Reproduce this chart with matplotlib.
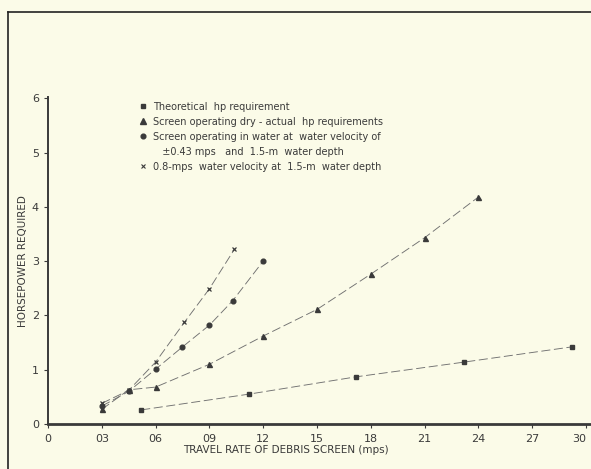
import matplotlib.pyplot as plt
from matplotlib.lines import Line2D

# travel rate (mps) vs horsepower
theo_x = [0.52, 1.12, 1.72, 2.32, 2.92]
theo_y = [0.26, 0.55, 0.87, 1.14, 1.42]

dry_x = [0.3, 0.45, 0.6, 0.9, 1.2, 1.5, 1.8, 2.1, 2.4]
dry_y = [0.27, 0.63, 0.68, 1.1, 1.62, 2.11, 2.76, 3.43, 4.18]

wet_x = [0.3, 0.45, 0.6, 0.75, 0.9, 1.03, 1.2]
wet_y = [0.33, 0.6, 1.01, 1.42, 1.82, 2.27, 3.0]

fast_x = [0.3, 0.45, 0.6, 0.76, 0.9, 1.04]
fast_y = [0.38, 0.62, 1.14, 1.87, 2.49, 3.22]

x_ticks = [0, 0.3, 0.6, 0.9, 1.2, 1.5, 1.8, 2.1, 2.4, 2.7, 3.0]
x_ticklabels = ["0", "03", "06", "09", "12", "15", "18", "21", "24", "27", "30"]
y_ticks = [0, 1, 2, 3, 4, 5, 6]

legend_labels = [
    "Theoretical  hp requirement",
    "Screen operating dry - actual  hp requirements",
    "Screen operating in water at  water velocity of",
    "   \u00b10.43 mps   and  1.5-m  water depth",
    "0.8-mps  water velocity at  1.5-m  water depth",
]

bg = "#fbfbe8"
ink = "#3a3a3a"
line_col = "#707070"
dash = (0, (10, 4))

fig = plt.figure(figsize=(5.91, 4.69), dpi=100, facecolor=bg)
ax = fig.add_axes([0.0812, 0.0959, 0.9163, 0.697], facecolor=bg)

ax.plot(theo_x, theo_y, color=line_col, lw=0.65, ls=dash)
ax.plot(dry_x, dry_y, color=line_col, lw=0.65, ls=dash)
ax.plot(wet_x, wet_y, color=line_col, lw=0.65, ls=dash)
ax.plot(fast_x, fast_y, color=line_col, lw=0.65, ls=dash)

ax.plot(theo_x, theo_y, ls="none", marker="s", ms=3.2, color=ink)
ax.plot(dry_x, dry_y, ls="none", marker="^", ms=3.6, color=ink)
ax.plot(wet_x, wet_y, ls="none", marker="o", ms=3.4, color=ink)
ax.plot(fast_x, fast_y, ls="none", marker="x", ms=3.0, mew=0.9, color=ink)

ax.set_xlim(0, 3.02)
ax.set_ylim(0, 6.02)
ax.set_xticks(x_ticks)
ax.set_xticklabels(x_ticklabels)
ax.set_yticks(y_ticks)
ax.get_xticklabels()[-1].set_horizontalalignment("right")

for s in ["top", "right"]:
    ax.spines[s].set_visible(False)
ax.spines["bottom"].set_linewidth(2.0)
ax.spines["left"].set_linewidth(1.4)
ax.spines["bottom"].set_color(ink)
ax.spines["left"].set_color(ink)
ax.tick_params(axis="both", colors=ink, labelsize=8, length=3, width=0.8, direction="out")
ax.tick_params(axis="x", pad=4)

ax.set_ylabel("HORSEPOWER REQUIRED", fontsize=7.5, color=ink, labelpad=3)
ax.set_xlabel("TRAVEL RATE OF DEBRIS SCREEN (mps)", fontsize=7.5, color=ink)
ax.xaxis.set_label_coords(0.44, -0.065)

handles = [
    Line2D([], [], ls="none", marker="s", ms=3, color=ink),
    Line2D([], [], ls="none", marker="^", ms=4, color=ink),
    Line2D([], [], ls="none", marker="o", ms=3.4, color=ink),
    Line2D([], [], ls="none", marker=""),
    Line2D([], [], ls="none", marker="x", ms=2.6, mew=0.8, color=ink),
]
leg = ax.legend(handles, legend_labels, loc="upper left", bbox_to_anchor=(0.162, 0.998),
                frameon=False, fontsize=7, labelspacing=0.52, handlelength=0.6,
                handletextpad=0.75, borderaxespad=0)
for t in leg.get_texts():
    t.set_color(ink)

# scanned page border
fig.add_artist(Line2D([0.014, 1.0], [0.975, 0.975], color="#222222", lw=1.2))
fig.add_artist(Line2D([0.014, 0.014], [0.0, 0.975], color="#222222", lw=1.2))

fig.savefig("out.png", dpi=100, facecolor=bg)
